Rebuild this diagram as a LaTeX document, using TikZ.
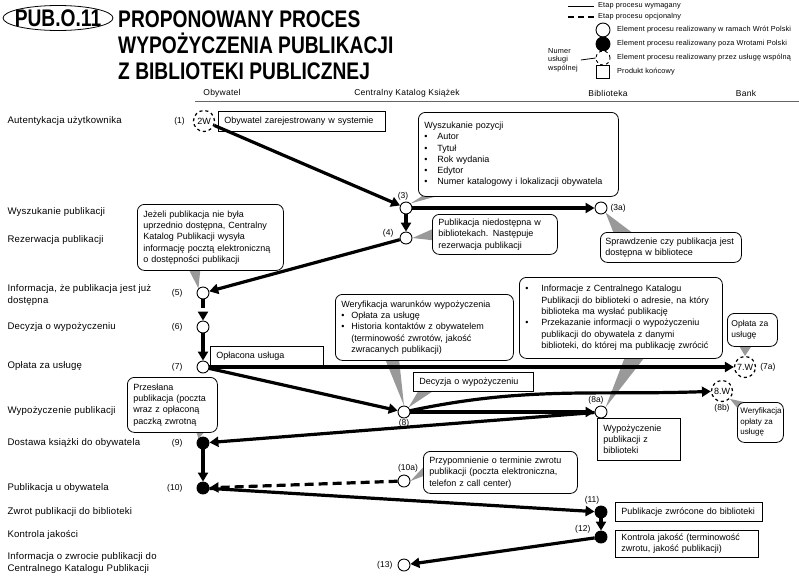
\documentclass[tikz,border=0pt]{standalone}
\usepackage{fontspec}
\setmainfont{Liberation Sans}
\newfontfamily\titlefont[FakeStretch=0.8]{Liberation Sans}
\usetikzlibrary{positioning,calc,backgrounds,arrows.meta,shapes.geometric}
\newcommand\bul[1][10pt]{\makebox[#1][l]{\textbullet}}

\tikzset{
  lbl/.style={anchor=west,align=left,font=\fontsize{9.6}{11.5}\selectfont\addfontfeature{LetterSpace=2}},
  num/.style={font=\fontsize{8.5}{10}\selectfont,inner sep=1pt},
  col/.style={font=\fontsize{8.5}{10}\selectfont\addfontfeature{LetterSpace=3}},
  legtxt/.style={anchor=west,inner sep=0pt,font=\fontsize{7.3}{8.5}\selectfont\addfontfeature{LetterSpace=2}},
  proc/.style={circle,draw,fill=white,line width=0.9pt,minimum size=12pt,inner sep=0pt},
  ext/.style={proc,fill=black},
  shared/.style={circle,draw,dashed,fill=white,line width=1.2pt,minimum size=21pt,inner sep=0pt,font=\fontsize{9}{10}\selectfont},
  prod/.style={draw,fill=white,anchor=north west,align=left,line width=0.8pt,inner xsep=6pt,font=\fontsize{9}{11.3}\selectfont},
  note/.style={prod,rounded corners=7pt},
  flow/.style={line width=3.2pt,-{Triangle[length=9pt,width=10pt]}},
  opt/.style={flow,dash pattern=on 9pt off 5pt},
  ptr/.style={fill=black!40},
}

\begin{document}
\begin{tikzpicture}[x=1pt,y=-1pt]
\useasboundingbox (0,0) rectangle (799,576);

% title
\node[font=\titlefont\bfseries\fontsize{24}{26}\selectfont,inner sep=0pt] (code) at (58,18) {PUB.O.11};
\draw[line width=0.8pt] (code.center) ellipse [x radius=55, y radius=12.5];
\node[anchor=base west,inner sep=0pt,font=\titlefont\bfseries\fontsize{24}{26}\selectfont] (title1) at (118,27) {PROPONOWANY PROCES};
\node[anchor=base west,inner sep=0pt,font=\titlefont\bfseries\fontsize{24}{26}\selectfont] (title2) at (118,53) {WYPOŻYCZENIA PUBLIKACJI};
\node[anchor=base west,inner sep=0pt,font=\titlefont\bfseries\fontsize{24}{26}\selectfont] (title3) at (118,79) {Z BIBLIOTEKI PUBLICZNEJ};

% legend
\coordinate (lgreq1) at (568,6);
\coordinate (lgreq2) at (594,6);
\draw[line width=1pt] (lgreq1) -- (lgreq2);
\node[legtxt] at (598,6) {Etap procesu wymagany};
\coordinate (lgopt1) at (568,17);
\coordinate (lgopt2) at (594,17);
\draw[line width=2pt,dash pattern=on 6pt off 4pt] (lgopt1) -- (lgopt2);
\node[legtxt] at (598,17) {Etap procesu opcjonalny};
\node[proc,minimum size=14pt] (lgopen) at (603,30) {};
\node[legtxt] at (617,30) {Element procesu realizowany w ramach Wrót Polski};
\node[ext,minimum size=14pt] (lgfull) at (603,44) {};
\node[legtxt] at (617,44) {Element procesu realizowany poza Wrotami Polski};
\node[proc,dashed,minimum size=14pt] (lgshared) at (603,58) {};
\node[legtxt] at (617,58) {Element procesu realizowany przez usługę wspólną};
\node[draw,line width=0.8pt,minimum size=13pt,inner sep=0pt] (lgprod) at (603,72) {};
\node[legtxt] at (617,72) {Produkt końcowy};
\node[legtxt,align=left] (numer) at (548,60) {Numer\\usługi\\wspólnej};
\draw[line width=0.8pt] (numer.east) ++(3,0) coordinate (numend) -- (lgshared.west);

% columns
\node[col] (hobyw) at (222,93) {Obywatel};
\node[col] (hckk) at (407,93) {Centralny Katalog Książek};
\node[col] (hbib) at (608,93) {Biblioteka};
\node[col] (hbank) at (746,93) {Bank};
\draw[black!60,line width=0.8pt] (195,101) -- (799,101);

% rows
\node[lbl] (rauth) at (4,121) {Autentykacja użytkownika};
\node[lbl] (rsearch) at (4,212) {Wyszukanie publikacji};
\node[lbl] (rres) at (4,240) {Rezerwacja publikacji};
\node[lbl] (rinfo) at (4,295) {Informacja, że publikacja jest już\\dostępna};
\node[lbl] (rdec) at (4,327) {Decyzja o wypożyczeniu};
\node[lbl] (rfee) at (4,366) {Opłata za usługę};
\node[lbl] (rloan) at (4,411) {Wypożyczenie publikacji};
\node[lbl] (rdel) at (4,443) {Dostawa książki do obywatela};
\node[lbl] (rhome) at (4,488) {Publikacja u obywatela};
\node[lbl] (rret) at (4,512) {Zwrot publikacji do biblioteki};
\node[lbl] (rqual) at (4,535) {Kontrola jakości};
\node[lbl] (rend) at (4,563) {Informacja o zwrocie publikacji do\\Centralnego Katalogu Publikacji};

% process steps
\node[shared] (n1) at (204,121) {2W};
\node[num,left=7pt of n1] {(1)};
\node[proc] (n3) at (406,208) {};
\node[num,above=0pt of n3,xshift=-3pt] {(3)};
\node[proc] (n3a) at (601,208) {};
\node[num,right=2pt of n3a] {(3a)};
\node[proc] (n4) at (406,238) {};
\node[num,left=5pt of n4,yshift=5pt] {(4)};
\node[proc] (n5) at (203,293) {};
\node[num,left=13pt of n5] {(5)};
\node[proc] (n6) at (203,327) {};
\node[num,left=13pt of n6] {(6)};
\node[proc] (n7) at (203,367) {};
\node[num,left=13pt of n7] {(7)};
\node[shared] (n7a) at (745,367) {7.W};
\node[num,right=3pt of n7a] {(7a)};
\node[proc] (n8) at (404,412) {};
\node[num,below=0pt of n8] {(8)};
\node[proc] (n8a) at (601,412) {};
\node[num,above=0pt of n8a,xshift=-5pt] {(8a)};
\node[shared] (n8b) at (722,391) {8.W};
\node[num,below=1pt of n8b] {(8b)};
\node[ext] (n9) at (203,443) {};
\node[num,left=13pt of n9] {(9)};
\node[ext] (n10) at (203,488) {};
\node[num,left=13pt of n10] {(10)};
\node[proc] (n10a) at (404,481) {};
\node[num,above=1pt of n10a,xshift=4pt] {(10a)};
\node[ext] (n11) at (601,512) {};
\node[num,above=0pt of n11,xshift=-9pt] {(11)};
\node[ext] (n12) at (601,537) {};
\node[num,left=3pt of n12,yshift=8pt] {(12)};
\node[proc] (n13) at (404,565) {};
\node[num,left=4pt of n13] {(13)};

% boxes and notes
\node[prod,minimum height=20pt,text width=155pt] (reg) at (218,111) {Obywatel zarejestrowany w systemie};
\node[note,minimum height=84pt,text width=188pt] (search) at (418,112) {Wyszukanie pozycji\\
\bul[13pt]Autor\\ \bul[13pt]Tytuł\\ \bul[13pt]Rok wydania\\ \bul[13pt]Edytor\\
\bul[13pt]Numer katalogowy i lokalizacji obywatela};
\node[note,minimum height=40pt,text width=113pt] (unavail) at (432,214) {Publikacja niedostępna w\\bibliotekach. Następuje\\rezerwacja publikacji};
\node[note,minimum height=30pt,text width=131pt,inner xsep=5pt] (check) at (600,232) {Sprawdzenie czy publikacja jest\\dostępna w bibliotece};
\node[note,minimum height=66pt,text width=134pt] (avail) at (137,204) {Jeżeli publikacja nie była\\uprzednio dostępna, Centralny\\Katalog Publikacji wysyła\\informację pocztą elektroniczną\\o dostępności publikacji};
\node[prod,minimum height=20pt,text width=101pt] (paid) at (210,346) {Opłacona usługa};
\node[note,minimum height=33pt,text width=42pt,inner xsep=4pt,font=\fontsize{8.5}{11}\selectfont] (fee) at (727,313) {Opłata za\\usługę};
\node[note,minimum height=66pt,text width=166pt] (verify) at (335,294) {Weryfikacja warunków wypożyczenia\\
\bul Opłata za usługę\\ \bul Historia kontaktów z obywatelem\\
\hspace*{10pt}(terminowość zwrotów, jakość\\ \hspace*{10pt}zwracanych publikacji)};
\node[prod,minimum height=19pt,text width=108pt] (decision) at (413,372) {Decyzja o wypożyczeniu};
\node[note,minimum height=81pt,text width=191pt] (info) at (519,277) {\bul[16pt]Informacje z Centralnego Katalogu\\
\hspace*{16pt}Publikacji do biblioteki o adresie, na który\\ \hspace*{16pt}biblioteka ma wysłać publikację\\
\bul[16pt]Przekazanie informacji o wypożyczeniu\\ \hspace*{16pt}publikacji do obywatela z danymi\\
\hspace*{16pt}biblioteki, do której ma publikację zwrócić};
\node[prod,minimum height=42pt,text width=71pt] (loan) at (597,418) {Wypożyczenie\\publikacji z\\biblioteki};
\node[note,minimum height=40pt,text width=40pt,inner xsep=3pt,font=\fontsize{8}{10.5}\selectfont] (feecheck) at (737,402) {Weryfikacja\\opłaty za\\usługę};
\node[note,minimum height=55pt,text width=78pt] (sent) at (127,377) {Przesłana\\publikacja (poczta\\wraz z opłaconą\\paczką zwrotną};
\node[note,minimum height=42pt,text width=142pt] (remind) at (423,451) {Przypomnienie o terminie zwrotu\\publikacji (poczta elektroniczna,\\telefon z call center)};
\node[prod,minimum height=19pt,text width=135pt] (returned) at (615,502) {Publikacje zwrócone do biblioteki};
\node[prod,minimum height=27pt,text width=131pt] (quality) at (615,530) {Kontrola jakość (terminowość\\zwrotu, jakość publikacji)};

% callout pointers
\begin{pgfonlayer}{background}
\fill[ptr] ($(search.south west)+(6,-2)$) -- ($(search.south west)+(24,-2)$) -- (n3.north east);
\fill[ptr] ($(unavail.west)+(2,-6)$) -- ($(unavail.west)+(2,6)$) -- (n4.east);
\fill[ptr] ($(check.north west)+(14,2)$) -- ($(check.north west)+(34,2)$) -- (n3a.south east);
\fill[ptr] ($(avail.south)+(-22,-2)$) -- ($(avail.south)+(-10,-2)$) -- (n5.north west);
\fill[ptr] ($(fee.south)+(-14,-2)$) -- ($(fee.south)+(0,-2)$) -- (n7a.north);
\fill[ptr] ($(verify.south west)+(50,-2)$) -- ($(verify.south west)+(64,-2)$) -- (n8.north);
\fill[ptr] ($(decision.south west)+(6,-2)$) -- ($(decision.south west)+(22,-2)$) -- (n8.north east);
\fill[ptr] ($(info.south west)+(106,-2)$) -- ($(info.south west)+(126,-2)$) -- (n8a.north east);
\fill[ptr] ($(feecheck.north west)+(2,8)$) -- ($(feecheck.north west)+(16,2)$) -- (n8b.south east);
\fill[ptr] ($(sent.south east)+(-22,-2)$) -- ($(sent.south east)+(-12,-2)$) -- (n9.north west);
\fill[ptr] ($(remind.west)+(2,-7)$) -- ($(remind.west)+(2,3)$) -- (n10a.east);
\end{pgfonlayer}

% flows
\draw[flow] (n1) -- (n3);
\draw[flow] (n3) -- (n3a);
\draw[flow] (n3) -- (n4);
\draw[flow] (n4) -- (n5);
\draw[opt] (n5) -- (n6);
\draw[flow] (n6) -- (n7);
\draw[flow] (n7) -- (n7a);
\draw[flow] (n7) -- (n8);
\draw[flow] (n8) -- (n8a);
\draw[flow] (n8) to[out=12,in=182] (n8b);
\draw[flow] (n8a) -- (n9);
\draw[flow] (n9) -- (n10);
\draw[opt] (n10a) -- (n10);
\draw[flow] (n10) -- (n11);
\draw[flow] (n11) -- (n12);
\draw[flow] (n12) -- (n13);
\end{tikzpicture}
\end{document}
